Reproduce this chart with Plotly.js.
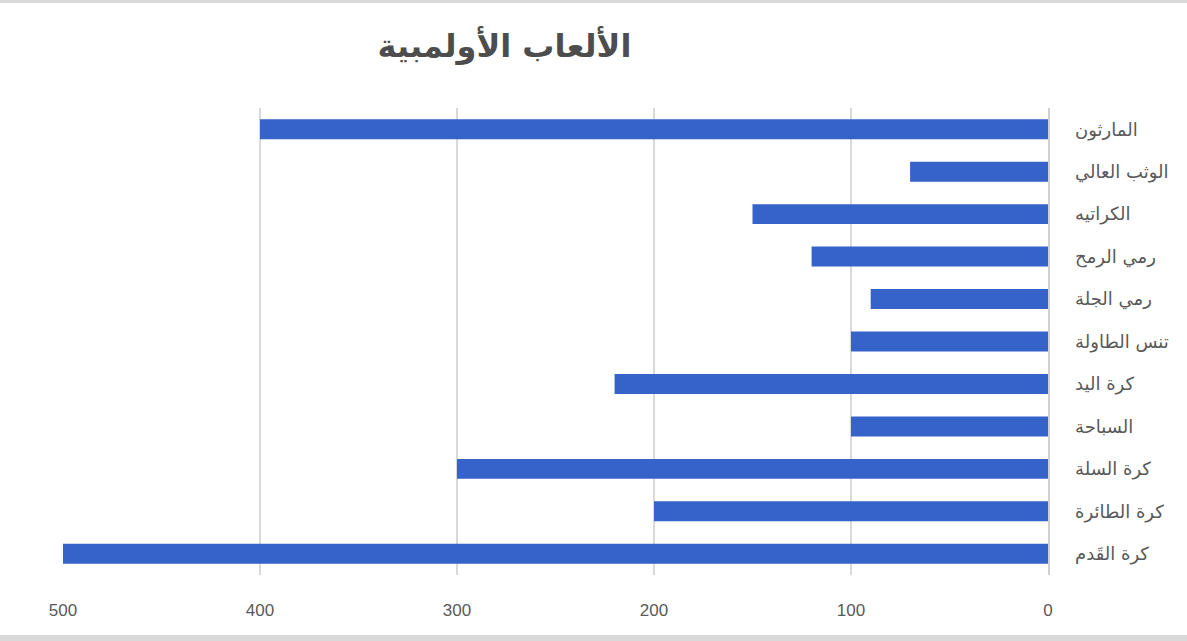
<!DOCTYPE html>
<html>
<head>
<meta charset="utf-8">
<script src="https://cdn.plot.ly/plotly-3.0.1.min.js"></script>
<style>
html,body{margin:0;padding:0;background:#fff;}
#wrap{width:1187px;height:641px;position:relative;}
#topline{position:absolute;left:0;top:0;width:1187px;height:3px;background:#d9d9d9;}
#botline{position:absolute;left:0;top:635px;width:1187px;height:6px;background:#d9d9d9;}
#chart{position:absolute;left:0;top:0;width:1187px;height:641px;}
</style>
</head>
<body>
<div id="wrap">
<div id="chart"></div>
<div id="topline"></div>
<div id="botline"></div>
</div>
<script>
// categories listed bottom-to-top
const categories = ["كرة القَدم","كرة الطائرة","كرة السلة","السباحة","كرة اليد","تنس الطاولة","رمي الجلة","رمي الرمح","الكراتيه","الوثب العالي","المارثون"];
const values = [500, 200, 300, 100, 220, 100, 90, 120, 150, 70, 400];
const xTicks = [0, 100, 200, 300, 400, 500];
const chartTitle = "الألعاب الأولمبية";

const trace = {
  type: 'bar',
  orientation: 'h',
  y: categories,
  x: values,
  width: 0.47,
  marker: {color: '#3563c9', line: {width: 0}},
  hoverinfo: 'x+y'
};

const layout = {
  width: 1187,
  height: 641,
  margin: {l: 63, r: 139, t: 108, b: 66},
  paper_bgcolor: '#ffffff',
  plot_bgcolor: '#ffffff',
  showlegend: false,
  title: {
    text: '<b>' + chartTitle + '</b>',
    x: 0.425, xanchor: 'center',
    y: 0.928, yanchor: 'middle',
    font: {family: 'DejaVu Sans, Arial, sans-serif', size: 32, color: '#4d4d4d'}
  },
  xaxis: {
    range: [500, 0],
    tickvals: xTicks,
    ticktext: xTicks.map(String),
    showgrid: true,
    gridcolor: '#d9d9d9',
    gridwidth: 1.5,
    zeroline: false,
    showline: false,
    ticks: 'outside',
    ticklen: 20,
    tickcolor: 'rgba(0,0,0,0)',
    tickfont: {family: 'Liberation Sans, Arial, sans-serif', size: 17, color: '#595959'},
    fixedrange: true
  },
  yaxis: {
    type: 'category',
    side: 'right',
    range: [-0.5, 10.5],
    showgrid: false,
    zeroline: false,
    showline: true,
    linecolor: '#d0d0d0',
    linewidth: 1.5,
    ticks: 'outside',
    ticklen: 22,
    tickcolor: 'rgba(0,0,0,0)',
    tickfont: {family: 'DejaVu Sans, Arial, sans-serif', size: 18, color: '#595959'},
    fixedrange: true
  },
  bargap: 0.5
};

Plotly.newPlot('chart', [trace], layout, {displayModeBar: false, staticPlot: true});
</script>
</body>
</html>
